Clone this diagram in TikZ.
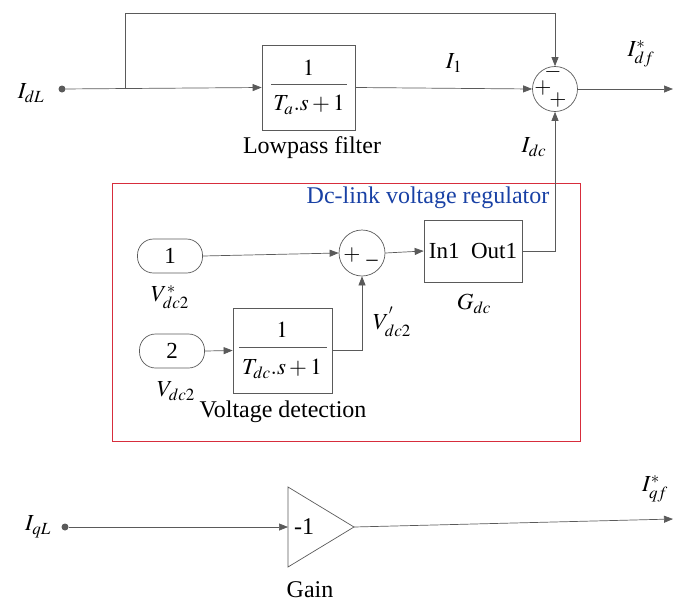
\documentclass[tikz,border=0pt]{standalone}
\usepackage{mathptmx}
\usepackage{fontspec}
\setmainfont{Liberation Serif}
\usetikzlibrary{arrows.meta}
\definecolor{wire}{RGB}{90,90,90}
\definecolor{regred}{RGB}{215,45,60}
\definecolor{regblue}{RGB}{25,65,165}
\begin{document}
\begin{tikzpicture}[x=1pt,y=-1pt,
  wirestyle/.style={draw=wire,line width=0.7pt},
  arr/.style={wirestyle,-{Triangle[length=9pt,width=7pt]}},
  blockbox/.style={draw=wire,line width=0.7pt,rectangle,inner sep=0pt},
  sumnode/.style={draw=wire,line width=0.7pt,circle,inner sep=0pt,minimum size=45pt},
  constbox/.style={draw=wire,line width=0.7pt,rectangle,rounded corners=16pt,minimum width=65pt,minimum height=34pt,inner sep=0pt,font=\fontsize{23}{26}\selectfont},
  txt/.style={inner sep=0pt,font=\fontsize{24}{28}\selectfont},
  mlabel/.style={inner sep=0pt,font=\fontsize{23}{27}\selectfont},
  sgn/.style={inner sep=0pt,font=\fontsize{22}{26}\selectfont}
]
\useasboundingbox (0,0) rectangle (674,608);

% ---------- top path ----------
\node[circle,fill=wire,inner sep=0pt,minimum size=7pt] (dotL) at (62,89) {};
\node[mlabel] (lIdL) at (31,93) {$I_{dL}$};
\node[blockbox,minimum width=93pt,minimum height=85pt] (lp) at (308.5,87.5) {};
\node[mlabel] (lpnum) at (308.5,68) {$1$};
\draw[wire,line width=0.7pt] (271,84) -- (347,84);
\node[mlabel] (lpden) at (309,105) {$T_a.s+1$};
\node[txt] (lplab) at (312,148) {Lowpass filter};
\node[sumnode] (sum1) at (555,89) {};
\node[sgn] (s1a) at (553,72) {$-$};
\node[sgn] (s1b) at (543,88) {$+$};
\node[sgn] (s1c) at (558,100) {$+$};
\coordinate (br) at (125,89);
\coordinate (endD) at (673,89);
\draw[arr] (dotL) -- (lp.west);
\draw[arr] (br) |- (555,13) -- (sum1.north);
\draw[arr] (lp.east) -- (sum1.west);
\draw[arr] (sum1.east) -- (endD);
\node[mlabel] (lI1) at (454,63) {$I_1$};
\node[mlabel] (lIdf) at (641,54) {$I^*_{df}$};
\node[mlabel] (lIdc) at (534,147) {$I_{dc}$};

% ---------- regulator ----------
\draw[regred,line width=0.8pt] (112,183) rectangle (580,441);
\node[txt,text=regblue] (regtitle) at (428,198) {Dc-link voltage regulator};
\node[constbox] (c1) at (170,256) {1};
\node[constbox] (c2) at (172,351) {2};
\node[mlabel] (lVs) at (170,297) {$V^*_{dc2}$};
\node[mlabel] (lV) at (176,391) {$V_{dc2}$};
\node[sumnode,minimum size=46pt] (sum2) at (362,253) {};
\node[sgn] (s2a) at (352,255) {$+$};
\node[sgn] (s2b) at (372,260) {$\_$};
\node[blockbox,minimum width=98pt,minimum height=62pt,font=\fontsize{23}{26}\selectfont] (gdc) at (473,251) {In1\ \ Out1};
\node[mlabel] (lGdc) at (474,304) {$G_{dc}$};
\node[blockbox,minimum width=99pt,minimum height=85pt] (vd) at (282.5,350.5) {};
\node[mlabel] (vdnum) at (282,330) {$1$};
\draw[wire,line width=0.7pt] (239,347) -- (327,347);
\node[mlabel] (vdden) at (282,369) {$T_{dc}.s+1$};
\node[txt] (vdlab) at (283,412) {Voltage detection};
\node[mlabel] (lVp) at (392,322) {$V^{'}_{dc2}$};
\draw[arr] (c1.east) -- (sum2.west);
\draw[arr] (c2.east) -- (vd.west);
\draw[arr] (vd.east) -| (sum2.south);
\draw[arr] (sum2.east) -- (gdc.west);
\draw[arr] (gdc.east) -| (sum1.south);

% ---------- gain path ----------
\node[circle,fill=wire,inner sep=0pt,minimum size=7pt] (dotQ) at (65,527) {};
\node[mlabel] (lIqL) at (38,527) {$I_{qL}$};
\coordinate (gin) at (288,527);
\coordinate (gout) at (354,527);
\coordinate (endQ) at (673,519);
\draw[wirestyle] (288,487) -- (gout) -- (288,567) -- cycle;
\node[txt] (gtxt) at (304,527) {-1};
\node[txt] (glab) at (310,590) {Gain};
\draw[arr] (dotQ) -- (gin);
\draw[arr] (gout) -- (endQ);
\node[mlabel] (lIqf) at (655,489) {$I^*_{qf}$};
\end{tikzpicture}
\end{document}
